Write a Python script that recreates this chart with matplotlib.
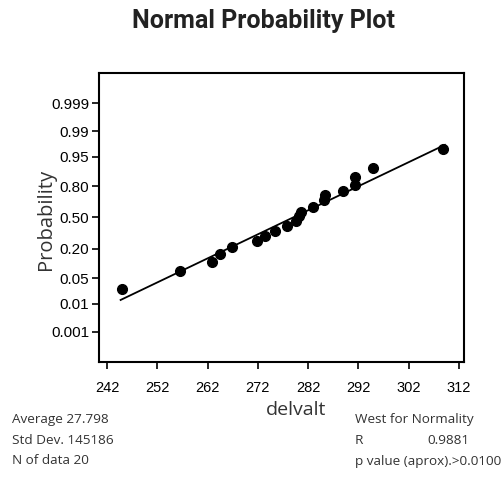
from statistics import NormalDist
import matplotlib
matplotlib.use("Agg")
import matplotlib.pyplot as plt

# data (x = delvalt, p = plotted probability)
delvalt = [24.49, 25.65, 26.29, 26.45, 26.69, 27.19, 27.34, 27.55, 27.77, 27.96,
           28.02, 28.06, 28.29, 28.52, 28.53, 28.90, 29.13, 29.13, 29.50, 30.88]
prob = [0.026, 0.074, 0.117, 0.160, 0.211, 0.266, 0.309, 0.361, 0.409, 0.457,
        0.516, 0.559, 0.608, 0.677, 0.728, 0.763, 0.810, 0.860, 0.908, 0.967]

# fitted line end points
fit_x = [24.47, 30.92]
fit_p = [0.013, 0.975]

prob_ticks = [0.001, 0.01, 0.05, 0.20, 0.50, 0.80, 0.95, 0.99, 0.999]
prob_labels = ["0.001", "0.01", "0.05", "0.20", "0.50", "0.80", "0.95", "0.99", "0.999"]
x_ticks = [24.2, 25.2, 26.2, 27.2, 28.2, 29.2, 30.2, 31.2]
x_labels = ["242", "252", "262", "272", "282", "292", "302", "312"]

left_stats = ["Average 27.798", "Std Dev. 145186", "N of data 20"]

nd = NormalDist()


def z(p):
    return [nd.inv_cdf(v) for v in p]


def main():
    fig = plt.figure(figsize=(5.03, 4.79), dpi=100)
    ax = fig.add_axes([0.1968, 0.2443, 0.7256, 0.6033])

    ax.plot(fit_x, z(fit_p), color="black", lw=1.3)
    ax.plot(delvalt, z(prob), "o", color="black", ms=7)

    ax.set_xlim(24.04, 31.3)
    ax.set_ylim(-3.9, 3.9)
    ax.set_yticks(z(prob_ticks))
    ax.set_yticklabels(prob_labels, fontsize=11, family="Liberation Sans")
    ax.set_xticks(x_ticks)
    ax.set_xticklabels(x_labels, fontsize=10.5, family="Liberation Sans")
    ax.tick_params(direction="out", length=5, width=1.2, pad=2, colors="black")
    ax.tick_params(axis="x", pad=9)
    for s in ax.spines.values():
        s.set_linewidth(1.5)

    sans = ["Open Sans", "DejaVu Sans"]
    fig.text(0.524, 0.957, "Normal Probability Plot", ha="center", va="center",
             fontsize=18, fontweight="bold", family=["Roboto", "DejaVu Sans"],
             color="#222222")
    fig.text(0.092, 0.541, "Probability", rotation=90, ha="center", va="center",
             fontsize=14.5, family=sans, color="#333333")
    fig.text(0.589, 1 - 410 / 479, "delvalt", ha="center", va="center",
             fontsize=14, family=sans, color="#333333")

    for i, t in enumerate(left_stats):
        fig.text(12 / 503, 1 - (419 + 21 * i) / 479, t, ha="left", va="center",
                 fontsize=9.7, family=sans, color="#333333")
    fig.text(355 / 503, 1 - 419 / 479, "West for Normality", ha="left", va="center",
             fontsize=9.7, family=sans, color="#333333")
    fig.text(355 / 503, 1 - 440 / 479, "R", ha="left", va="center",
             fontsize=9.7, family=sans, color="#333333")
    fig.text(470 / 503, 1 - 440 / 479, "0.9881", ha="right", va="center",
             fontsize=9.7, family=sans, color="#333333")
    fig.text(355 / 503, 1 - 461 / 479, "p value (aprox).>0.0100", ha="left", va="center",
             fontsize=9.7, family=sans, color="#333333")

    fig.savefig("out.png", dpi=100)


if __name__ == "__main__":
    main()
